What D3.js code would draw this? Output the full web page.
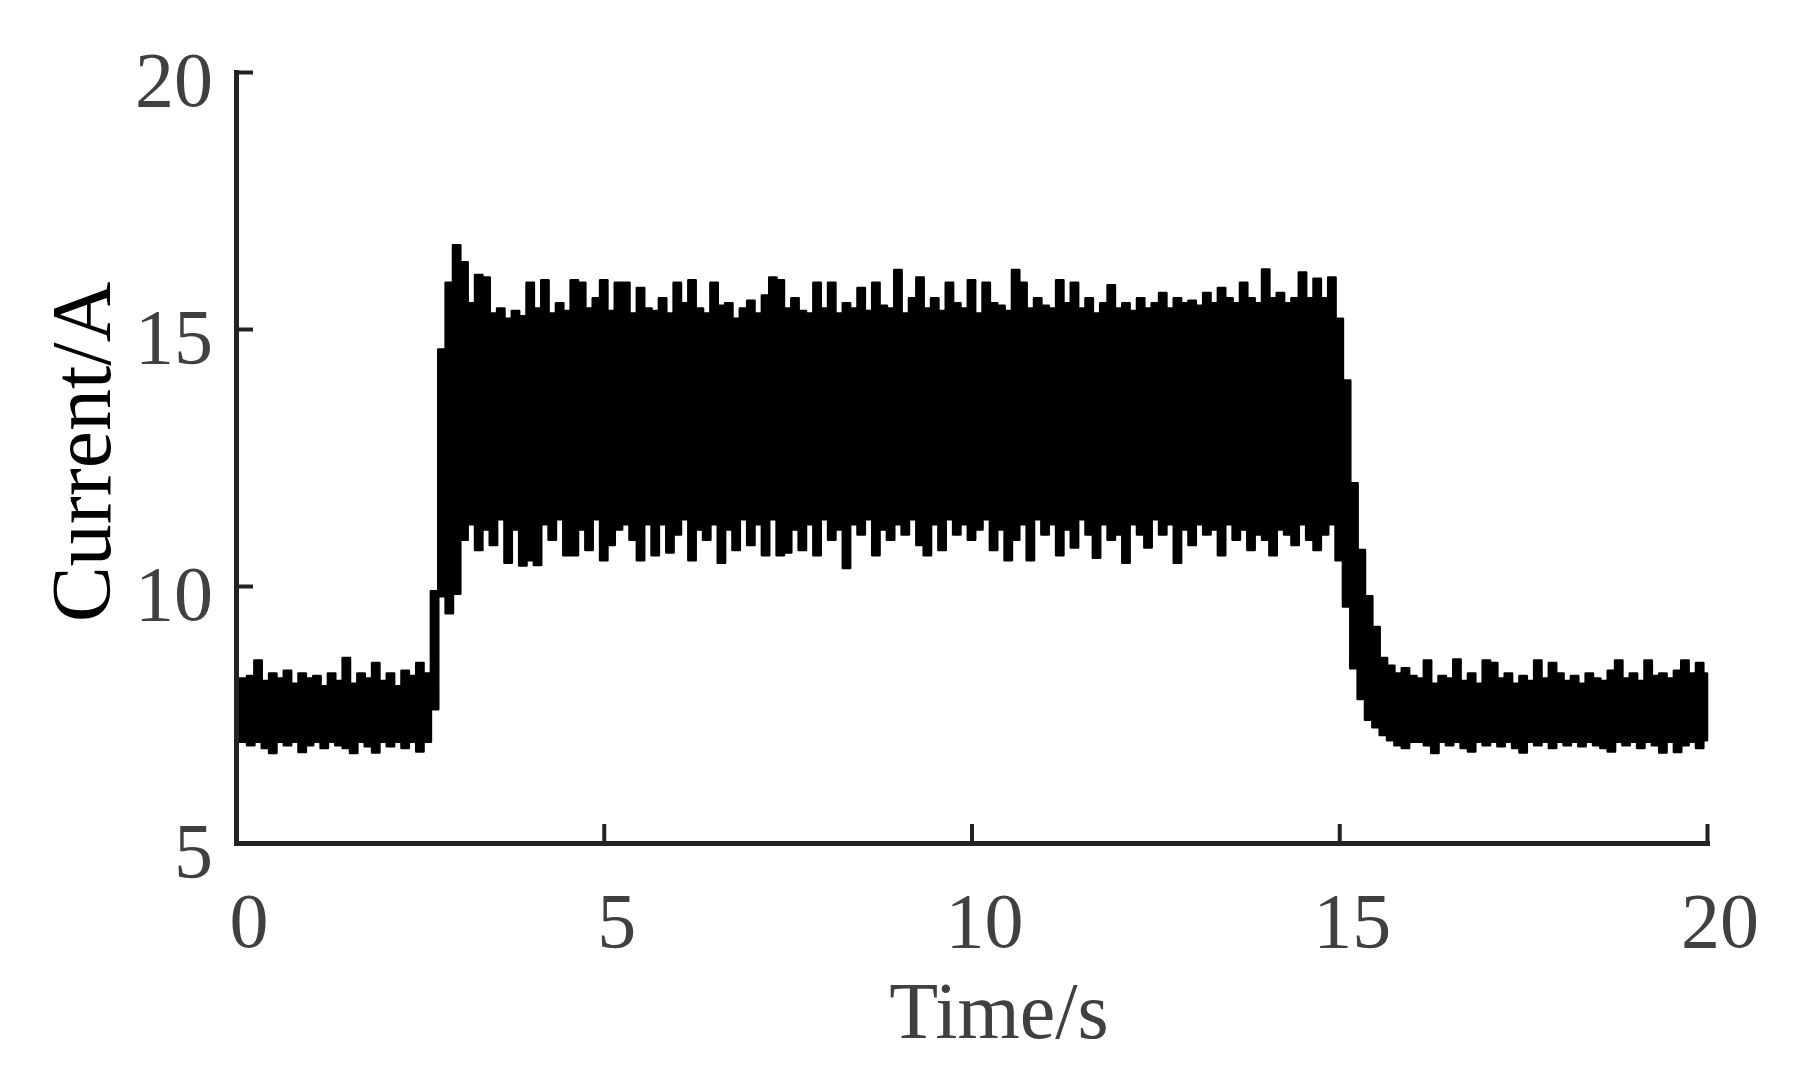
<!DOCTYPE html>
<html>
<head>
<meta charset="UTF-8">
<title>Current</title>
<script src="https://cdn.jsdelivr.net/npm/d3@7"></script>
<style>
  body { margin: 0; background: #fff; }
  text { font-family: "Palatino Linotype", "Book Antiqua", Palatino, "Liberation Serif", serif; }
</style>
</head>
<body>
<svg id="chart" width="1809" height="1083"></svg>
<script>
// sample step of the envelope (s)
var dt = 0.1;

// upper peaks of the current per 0.1 s (A)
var upper = [
  8.0, 8.2, 8.25, 8.55, 8.15, 8.3, 8.2, 8.35, 8.1, 8.3,
  8.2, 8.25, 8.05, 8.3, 8.15, 8.6, 8.1, 8.3, 8.2, 8.5,
  8.15, 8.3, 8.05, 8.35, 8.25, 8.5, 8.3, 9.9, 14.6, 15.9,
  16.63, 16.3, 15.5, 16.05, 16.0, 15.3, 15.4, 15.2, 15.35, 15.25,
  15.9, 15.4, 15.95, 15.3, 15.5, 15.35, 15.95, 15.9, 15.4, 15.6,
  15.95, 15.35, 15.9, 15.9, 15.3, 15.8, 15.4, 15.35, 15.6, 15.3,
  15.9, 15.5, 15.95, 15.4, 15.3, 15.9, 15.45, 15.5, 15.2, 15.4,
  15.55, 15.3, 15.65, 16.0, 15.95, 15.4, 15.6, 15.35, 15.3, 15.9,
  15.4, 15.9, 15.3, 15.5, 15.4, 15.8, 15.35, 15.9, 15.45, 15.4,
  16.15, 15.3, 15.6, 16.0, 15.4, 15.6, 15.35, 15.9, 15.5, 15.4,
  15.95, 15.3, 15.9, 15.5, 15.45, 15.35, 16.15, 15.9, 15.4, 15.6,
  15.45, 15.4, 15.95, 15.5, 15.9, 15.4, 15.6, 15.3, 15.5, 15.85,
  15.4, 15.5, 15.35, 15.6, 15.4, 15.5, 15.7, 15.4, 15.6, 15.5,
  15.55, 15.45, 15.7, 15.5, 15.8, 15.6, 15.5, 15.9, 15.6, 15.5,
  16.16, 15.6, 15.7, 15.5, 15.6, 16.1, 15.6, 15.98, 15.6, 16.0,
  15.2, 14.0, 12.0, 10.7, 9.8, 9.2, 8.6, 8.45, 8.3, 8.4,
  8.25, 8.2, 8.55, 8.1, 8.25, 8.2, 8.57, 8.15, 8.3, 8.1,
  8.55, 8.5, 8.2, 8.3, 8.1, 8.25, 8.15, 8.55, 8.2, 8.5,
  8.3, 8.15, 8.25, 8.1, 8.3, 8.2, 8.15, 8.35, 8.55, 8.2,
  8.3, 8.15, 8.55, 8.25, 8.3, 8.2, 8.35, 8.55, 8.3, 8.5,
  8.3
];

// lower troughs of the current per 0.1 s (A)
var lower = [
  7.0, 6.97, 6.9, 6.97, 6.85, 6.75, 6.97, 6.9, 6.97, 6.77,
  6.9, 6.97, 6.85, 6.97, 6.9, 6.85, 6.75, 6.97, 6.88, 6.76,
  6.97, 6.88, 6.97, 6.85, 6.97, 6.78, 6.97, 7.6, 9.8, 9.47,
  9.85, 10.9, 11.2, 10.7, 11.1, 10.8, 11.3, 10.45, 11.1, 10.4,
  10.5, 10.41, 11.2, 10.9, 11.3, 10.6, 10.6, 11.1, 10.7, 11.3,
  10.5, 10.8, 11.1, 11.2, 10.9, 10.5, 11.2, 10.6, 11.2, 10.65,
  11.0, 11.3, 10.5, 11.1, 10.9, 11.2, 10.45, 11.1, 10.7, 11.3,
  10.8, 11.2, 10.6, 11.3, 10.6, 10.65, 11.1, 10.7, 11.2, 10.6,
  11.3, 10.9, 11.1, 10.35, 11.2, 11.0, 11.3, 10.6, 11.1, 10.9,
  11.2, 11.0, 11.3, 10.8, 10.6, 11.2, 10.7, 11.3, 11.0, 11.2,
  10.9, 11.1, 11.3, 10.7, 11.1, 10.5, 10.9, 11.2, 10.5, 11.3,
  11.0, 11.2, 10.6, 11.1, 10.75, 11.3, 11.0, 10.55, 11.2, 10.9,
  11.0, 10.45, 11.2, 11.0, 10.75, 11.3, 11.0, 11.2, 10.45, 11.1,
  10.8, 11.2, 11.0, 11.1, 10.6, 11.2, 10.9, 11.1, 10.7, 11.0,
  10.9, 10.6, 11.1, 11.0, 10.8, 11.2, 10.9, 10.7, 11.0, 11.2,
  10.5, 9.6, 8.4, 7.8, 7.4, 7.25, 7.1, 7.0, 6.9, 6.85,
  6.97, 6.97, 6.9, 6.75, 6.97, 6.9, 6.97, 6.85, 6.78, 6.97,
  6.9, 6.97, 6.88, 6.97, 6.85, 6.76, 6.97, 6.9, 6.97, 6.85,
  6.97, 6.9, 6.97, 6.88, 6.97, 6.9, 6.85, 6.78, 6.97, 6.9,
  6.97, 6.85, 6.97, 6.9, 6.76, 6.97, 6.77, 6.9, 6.97, 6.85,
  7.0
];

var xTicks = [0, 5, 10, 15, 20];
var yTicks = [5, 10, 15, 20];
var xTitle = "Time/s";
var yTitle = "Current/A";

var svg = d3.select("#chart");
var plotLeft = 236, plotRight = 1707, plotTop = 72, plotBottom = 843;

var x = d3.scaleLinear().domain([0, 20]).range([plotLeft, plotRight]);
var y = d3.scaleLinear().domain([5, 20]).range([plotBottom, plotTop]);

var samples = upper.map(function(u, i) {
  return { t: i * dt, hi: u, lo: lower[i] };
});

// noisy signal drawn as its envelope band
var band = d3.area()
  .curve(d3.curveStep)
  .x(function(d) { return x(d.t); })
  .y0(function(d) { return y(d.lo); })
  .y1(function(d) { return y(d.hi); });

svg.append("path")
  .datum(samples)
  .attr("d", band)
  .attr("fill", "#000")
  .attr("stroke", "#000")
  .attr("stroke-width", 2.5)
  .attr("stroke-linejoin", "round");

// axes, ticks pointing inward
var xAxis = svg.append("g")
  .attr("transform", "translate(0," + plotBottom + ")")
  .call(d3.axisBottom(x).tickValues(xTicks).tickSizeInner(-19).tickSizeOuter(0).tickPadding(0));
var yAxis = svg.append("g")
  .attr("transform", "translate(" + plotLeft + ",0)")
  .call(d3.axisLeft(y).tickValues(yTicks).tickSizeInner(-17).tickSizeOuter(0).tickPadding(0));

[xAxis, yAxis].forEach(function(g) {
  g.select(".domain").attr("stroke", "#222").attr("stroke-width", 5).attr("stroke-linecap", "square");
  g.selectAll(".tick line").attr("stroke", "#222").attr("stroke-width", 4);
  g.selectAll(".tick text").remove();
});

// tick labels
svg.append("g").selectAll("text")
  .data(xTicks)
  .enter().append("text")
  .attr("x", function(d) { return x(d) + 13; })
  .attr("y", 947)
  .attr("text-anchor", "middle")
  .attr("font-size", 78)
  .attr("fill", "#404040")
  .text(function(d) { return d; });

svg.append("g").selectAll("text")
  .data(yTicks)
  .enter().append("text")
  .attr("x", 213)
  .attr("y", function(d) { return y(d) + 34; })
  .attr("text-anchor", "end")
  .attr("font-size", 78)
  .attr("fill", "#404040")
  .text(function(d) { return d; });

// axis titles
svg.append("text")
  .attr("x", 999)
  .attr("y", 1038)
  .attr("text-anchor", "middle")
  .attr("font-size", 80)
  .attr("fill", "#404040")
  .text(xTitle);

svg.append("text")
  .attr("transform", "translate(110,452) rotate(-90)")
  .attr("text-anchor", "middle")
  .attr("font-size", 84)
  .attr("fill", "#000")
  .text(yTitle);
</script>
</body>
</html>
